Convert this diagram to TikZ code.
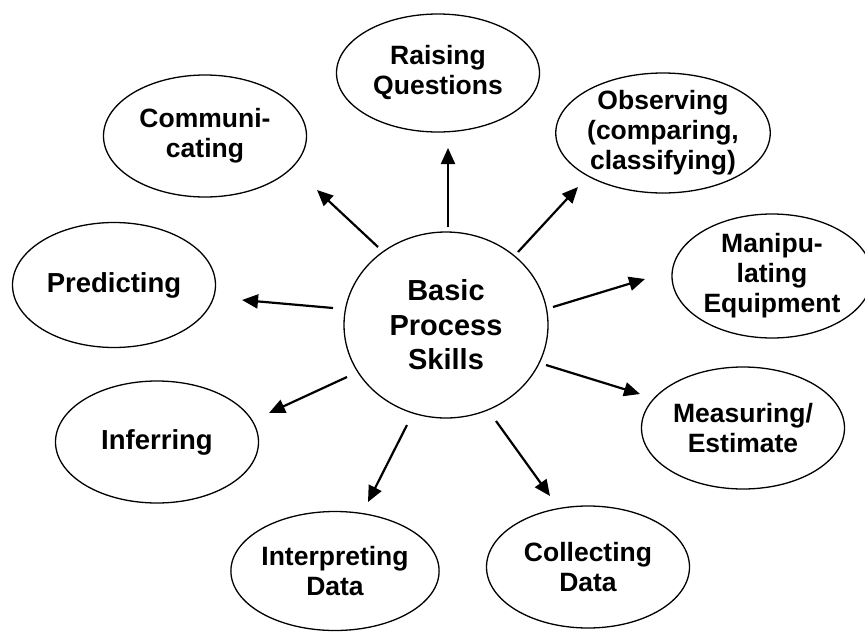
\documentclass[tikz,border=0pt]{standalone}
\usepackage{fontspec}
\setmainfont{Liberation Sans}
\usetikzlibrary{arrows.meta,shapes.geometric}
\tikzset{
  skill/.style={draw, line width=1.3pt, ellipse, minimum width=203pt, minimum height=122pt,
    inner sep=0pt, align=center, font=\fontsize{26.5}{30}\selectfont\bfseries},
  bigtext/.style={font=\fontsize{27.5}{30}\selectfont\bfseries},
  hub/.style={draw, line width=1.3pt, ellipse, minimum width=204pt, minimum height=186pt,
    inner sep=0pt, align=center, font=\fontsize{29}{34.5}\selectfont\bfseries},
  arr/.style={line width=2.2pt, -{Triangle[length=16pt,width=14pt]}}
}
\begin{document}
\begin{tikzpicture}[x=1pt,y=-1pt]
\useasboundingbox (0,0) rectangle (865,632);
\clip (0,0) rectangle (865,632);
\node[hub] (c) at (446,325) {Basic\\Process\\Skills};
\node[skill, minimum height=118pt] (rq) at (438,73) {Raising\\Questions};
\node[skill, minimum width=200pt, minimum height=120pt] (ob) at (663,133) {Observing\\(comparing,\\classifying)};
\node[skill] (co) at (205,136) {Communi-\\cating};
\node[skill, bigtext, minimum height=125pt] (pr) at (114,285) {Predicting};
\node[skill, minimum width=200pt, minimum height=124pt] (ma) at (772,276) {Manipu-\\lating\\Equipment};
\node[skill] (me) at (743,428) {Measuring/\\Estimate};
\node[skill, bigtext] (in) at (157,442) {Inferring};
\node[skill, minimum height=119pt] (ip) at (335,571) {Interpreting\\Data};
\node[skill] (cd) at (588,567) {Collecting\\Data};
% arrow end points
\coordinate (s1) at (448,227); \coordinate (e1) at (448,148);
\coordinate (s2) at (518,252); \coordinate (e2) at (578,187);
\coordinate (s3) at (378,247); \coordinate (e3) at (317,190);
\coordinate (s4) at (333,308); \coordinate (e4) at (242,300);
\coordinate (s5) at (553,307); \coordinate (e5) at (645,279);
\coordinate (s6) at (546,365); \coordinate (e6) at (640,394);
\coordinate (s7) at (347,377); \coordinate (e7) at (269,413);
\coordinate (s8) at (407,425); \coordinate (e8) at (368,502);
\coordinate (s9) at (496,421); \coordinate (e9) at (550,496);
\draw[arr] (s1) -- (e1);
\draw[arr] (s2) -- (e2);
\draw[arr] (s3) -- (e3);
\draw[arr] (s4) -- (e4);
\draw[arr] (s5) -- (e5);
\draw[arr] (s6) -- (e6);
\draw[arr] (s7) -- (e7);
\draw[arr] (s8) -- (e8);
\draw[arr] (s9) -- (e9);
\end{tikzpicture}
\end{document}
